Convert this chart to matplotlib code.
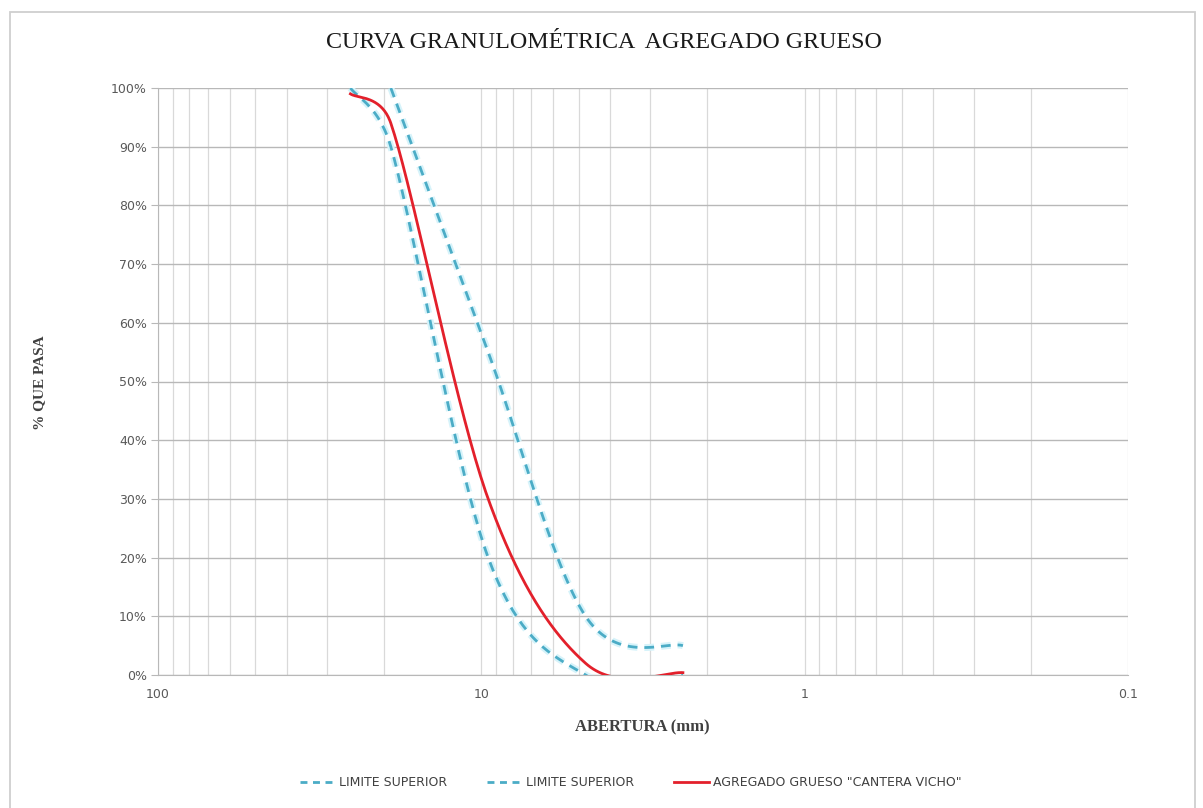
# Curva granulométrica del agregado grueso (escala logarítmica invertida)
import matplotlib
matplotlib.use('Agg')
import matplotlib.pyplot as plt
import matplotlib.patheffects as pe
import numpy as np
from matplotlib.lines import Line2D
from matplotlib.patches import Rectangle
from matplotlib.ticker import LogLocator, NullFormatter, PercentFormatter

# Datos (abertura en mm, % que pasa)
abertura_lim1 = [25.4, 19.05, 9.525, 4.76, 2.38]
pasa_lim1 = [100, 90, 20, 0, 0]

abertura_lim2 = [19.05, 9.525, 4.76, 2.38]
pasa_lim2 = [100, 55, 10, 5]

abertura_muestra = [25.4, 19.05, 9.525, 4.76, 2.38]
pasa_muestra = [99, 94, 30, 2, 0.4]

ticks_x = [100, 10, 1, 0.1]
etiquetas_x = ['100', '10', '1', '0.1']
ticks_y = list(range(0, 101, 10))

etiquetas_leyenda = ['LIMITE SUPERIOR', 'LIMITE SUPERIOR',
                     'AGREGADO GRUESO "CANTERA VICHO"']

FUENTE_SANS = ['Liberation Sans Narrow', 'DejaVu Sans']
FUENTE_SERIF = ['Liberation Serif', 'DejaVu Serif']

CIAN = '#4bacc6'
ROJO = '#e3202b'

# escala aproximada en pixeles (para el suavizado)
PX_DECADA = 970 / 3
PX_PORCIENTO = 587 / 100


def suavizar(x, y, n=40, k=0.6):
    """Línea suavizada tipo Excel (Bezier con tangentes limitadas)."""
    u = np.log10(np.asarray(x, float)) * PX_DECADA
    v = np.asarray(y, float) * PX_PORCIENTO
    pts = np.column_stack([u, v])
    P = np.vstack([pts[0], pts, pts[-1]])
    t = np.linspace(0, 1, n)[:, None]
    tramos = []
    for i in range(1, len(P) - 2):
        p0, p1, p2, p3 = P[i - 1], P[i], P[i + 1], P[i + 2]
        largo = np.hypot(*(p2 - p1))
        d1 = (p2 - p0) / 6
        d2 = (p3 - p1) / 6
        for d in (d1, d2):
            m = np.hypot(*d)
            if m > k * largo:
                d *= k * largo / m
        c1 = p1 + d1
        c2 = p2 - d2
        tramos.append((1 - t) ** 3 * p1 + 3 * (1 - t) ** 2 * t * c1
                      + 3 * (1 - t) * t ** 2 * c2 + t ** 3 * p2)
    s = np.vstack(tramos)
    return 10 ** (s[:, 0] / PX_DECADA), s[:, 1] / PX_PORCIENTO


fig = plt.figure(figsize=(12.03, 8.08), dpi=100)
ax = fig.add_axes([158 / 1203, 1 - 675 / 808, 970 / 1203, 587 / 808])

# Marco del gráfico
fig.patches.append(Rectangle((10 / 1203, -0.01), 1185 / 1203, 1 - 12 / 808 + 0.01,
                             transform=fig.transFigure, fill=False,
                             edgecolor='#cfcfcf', linewidth=1.3))

halo = [pe.Stroke(linewidth=5, foreground='#d6f3fa'), pe.Normal()]

x1, y1 = suavizar(abertura_lim1, pasa_lim1)
ax.plot(x1, y1, color=CIAN, lw=2, dashes=(3.5, 2.5), path_effects=halo, zorder=3)
x2, y2 = suavizar(abertura_lim2, pasa_lim2)
ax.plot(x2, y2, color=CIAN, lw=2, dashes=(3.5, 2.5), path_effects=halo, zorder=3)
x3, y3 = suavizar(abertura_muestra, pasa_muestra)
ax.plot(x3, y3, color=ROJO, lw=2, zorder=4)

ax.set_xscale('log')
ax.set_xlim(100, 0.1)
ax.set_ylim(0, 100)

ax.set_xticks(ticks_x, etiquetas_x)
ax.xaxis.set_minor_locator(LogLocator(base=10, subs=np.arange(2, 10)))
ax.xaxis.set_minor_formatter(NullFormatter())
ax.set_yticks(ticks_y)
ax.yaxis.set_major_formatter(PercentFormatter(100, decimals=0))

ax.grid(True, which='both', axis='x', color='#d9d9d9', linewidth=0.9)
ax.grid(True, which='major', axis='y', color='#b8b8b8', linewidth=1)
ax.set_axisbelow(True)

for lado in ['top', 'right']:
    ax.spines[lado].set_visible(False)
for lado in ['left', 'bottom']:
    ax.spines[lado].set_color('#b8b8b8')

ax.tick_params(axis='x', which='both', length=0, pad=9)
ax.tick_params(axis='y', length=5, color='#b8b8b8', pad=3)
for lbl in ax.get_xticklabels() + ax.get_yticklabels():
    lbl.set_family(FUENTE_SANS)
    lbl.set_fontsize(9)
    lbl.set_color('#595959')

fig.text(604 / 1203, 1 - 43 / 808, 'CURVA GRANULOMÉTRICA  AGREGADO GRUESO',
         ha='center', va='center', fontsize=17.3, family=FUENTE_SERIF, color='#1a1a1a')
fig.text(40 / 1203, 1 - 383 / 808, '% QUE PASA', rotation=90, ha='center', va='center',
         fontsize=11, fontweight='bold', family=FUENTE_SERIF, color='#404040')
fig.text(642 / 1203, 1 - 727 / 808, 'ABERTURA (mm)', ha='center', va='center',
         fontsize=12, fontweight='bold', family=FUENTE_SERIF, color='#404040')

manijas = [Line2D([], [], color=CIAN, lw=2, dashes=(2.5, 2)),
           Line2D([], [], color=CIAN, lw=2, dashes=(2.5, 2)),
           Line2D([], [], color=ROJO, lw=2)]
fig.legend(manijas, etiquetas_leyenda, loc='center', bbox_to_anchor=(631 / 1203, 1 - 783 / 808),
           ncol=3, frameon=False, handlelength=2.8, columnspacing=3.2, handletextpad=0.3,
           prop={'family': FUENTE_SANS, 'size': 9}, labelcolor='#404040')

fig.savefig('out.png', dpi=100)
